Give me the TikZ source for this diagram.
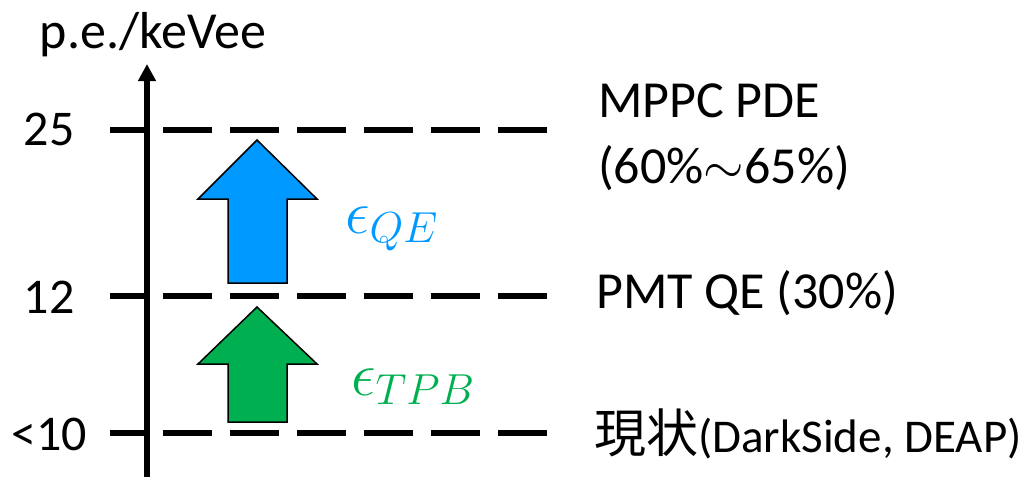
\RequirePackage{fix-cm}
\documentclass[tikz,border=0pt]{standalone}
\usepackage[no-math]{fontspec}
\setmainfont{Carlito}
\newfontfamily\jpfont{Noto Sans CJK JP}
\usetikzlibrary{arrows.meta}
\definecolor{qeblue}{RGB}{0,153,255}
\definecolor{tpbgreen}{RGB}{0,176,80}
\tikzset{
  lvl/.style={line width=6pt, dash pattern=on 49pt off 18pt, dash phase=14pt},
  axisline/.style={line width=5.5pt},
  ticklbl/.style={anchor=base, inner sep=0pt, font=\fontsize{50}{60}\selectfont},
  rlbl/.style={anchor=base west, inner sep=0pt, font=\fontsize{52}{66}\selectfont, align=left},
  uparrow/.style={draw=black, line width=1.5pt, line join=miter},
  epslbl/.style={anchor=base west, inner sep=0pt, font=\fontsize{62}{62}\selectfont},
}
\begin{document}
\begin{tikzpicture}[x=1pt,y=-1pt]
\useasboundingbox (0,0) rectangle (1030,477);
% level lines
\coordinate (l25a) at (110,130); \coordinate (l25b) at (547,130);
\coordinate (l12a) at (110,296); \coordinate (l12b) at (547,296);
\coordinate (l10a) at (110,433); \coordinate (l10b) at (547,433);
\draw[lvl] (l25a) -- (l25b);
\draw[lvl] (l12a) -- (l12b);
\draw[lvl] (l10a) -- (l10b);
% axis
\coordinate (axb) at (147,477);
\coordinate (axt) at (147,64);
\draw[axisline, -{Triangle[width=17pt,length=17pt]}] (axb) -- (axt);
\node[anchor=base, inner sep=0pt, font=\fontsize{52}{60}\selectfont] (unit) at (153,48) {p.e./keVee};
% tick labels
\node[ticklbl] (t25) at (49,145) {25};
\node[ticklbl] (t12) at (49,313) {12};
\node[ticklbl] (t10) at (49,450) {<10};
% arrows
\path[uparrow, fill=qeblue] (257,140) -- (317,199) -- (287,199) -- (287,283) -- (228,283) -- (228,199) -- (198,199) -- cycle;
\path[uparrow, fill=tpbgreen] (257,307) -- (317,364) -- (287,364) -- (287,422) -- (228,422) -- (228,364) -- (198,364) -- cycle;
\node[epslbl, text=qeblue] (eqe) at (345,233) {$\epsilon_{QE}$};
\node[epslbl, text=tpbgreen] (etpb) at (351,395) {$\epsilon_{TPB}$};
% right labels
\node[rlbl] (mppc) at (598,183) {MPPC PDE\\(60\%${\sim}$65\%)};
\node[rlbl] (pmt) at (596,308) {PMT QE (30\%)};
\node[rlbl] (now) at (594,452) {{\jpfont 現状}{\fontsize{47}{60}\selectfont(DarkSide, DEAP)}};
\end{tikzpicture}
\end{document}
